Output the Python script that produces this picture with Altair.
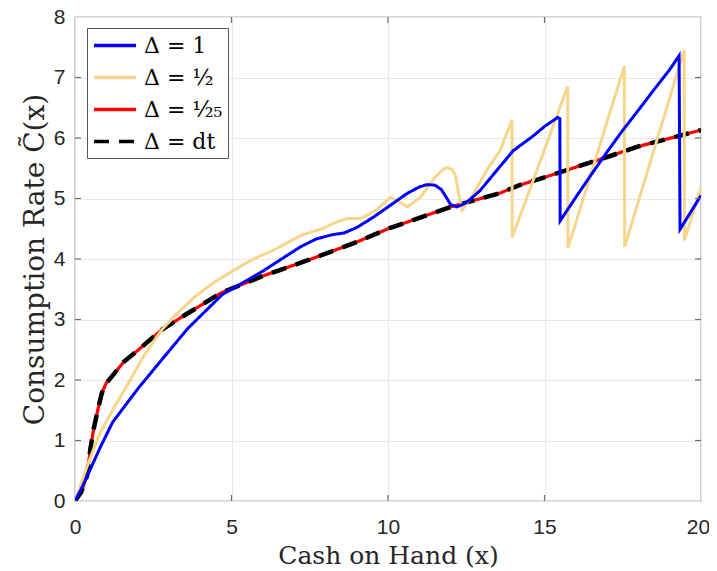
import altair as alt
import pandas as pd

# ---- data ----
labels = ["Δ = 1", "Δ = ½", "Δ = ¹⁄₂₅", "Δ = dt"]
colors = ["#0000FF", "#F6D68C", "#FF0000", "#000000"]

blue_x = [0, 0.2, 0.4, 0.8, 1.2, 2.0, 2.7, 3.6, 4.7, 5.4, 6.0, 6.6, 7.2, 7.7, 8.2, 8.6,
          9.0, 9.5, 10.0, 10.6, 11.0, 11.25, 11.5, 11.7, 11.85, 12.0, 12.2, 12.5, 12.94,
          13.5, 14.0, 14.63, 15.0, 15.42, 15.49, 15.5, 16.0, 16.5, 17.0, 17.49, 18.0,
          18.5, 19.0, 19.3, 19.33, 20.0]
blue_y = [0, 0.2, 0.42, 0.88, 1.3, 1.85, 2.29, 2.85, 3.41, 3.62, 3.8, 4.0, 4.2, 4.33,
          4.4, 4.43, 4.52, 4.68, 4.86, 5.08, 5.19, 5.23, 5.22, 5.15, 5.03, 4.9, 4.86,
          4.93, 5.13, 5.48, 5.79, 6.03, 6.19, 6.34, 6.32, 4.63, 5.02, 5.4, 5.77, 6.12,
          6.46, 6.8, 7.13, 7.36, 4.49, 5.05]

half_x = [0, 0.3, 0.75, 1.2, 1.72, 2.2, 2.77, 3.3, 3.82, 4.4, 5.09, 5.7, 6.36, 7.22, 7.9,
          8.3, 8.7, 9.13, 9.6, 10.08, 10.35, 10.62, 11.03, 11.5, 11.75, 11.89, 12.05,
          12.15, 12.27, 12.37, 12.7, 13.16, 13.58, 13.96, 13.97, 15.74, 15.75, 17.55,
          17.56, 19.46, 19.47, 20.0]
half_y = [0, 0.45, 1.07, 1.5, 1.96, 2.4, 2.83, 3.12, 3.37, 3.6, 3.82, 4.0, 4.15, 4.39, 4.5,
          4.6, 4.67, 4.67, 4.8, 5.02, 4.95, 4.86, 5.02, 5.35, 5.48, 5.51, 5.48, 5.38,
          5.05, 4.81, 5.05, 5.47, 5.79, 6.3, 4.36, 6.85, 4.18, 7.19, 4.2, 7.45, 4.31, 5.18]

fine_x = [0, 0.2, 0.38, 0.49, 0.6, 0.73, 0.86, 1.0, 1.18, 1.56, 2.03, 2.77, 3.5, 4.67,
          6.0, 7.44, 9.0, 10.0, 11.0, 12.0, 13.58, 14.2, 15.0, 16.85, 18.0, 20.0]
fine_y = [0, 0.15, 0.41, 0.86, 1.2, 1.51, 1.79, 1.95, 2.06, 2.3, 2.5, 2.83, 3.07, 3.44,
          3.72, 3.98, 4.28, 4.5, 4.68, 4.86, 5.09, 5.22, 5.35, 5.66, 5.86, 6.13]

dt_x = fine_x
dt_y = fine_y

x_ticks = [0, 5, 10, 15, 20]
y_ticks = [0, 1, 2, 3, 4, 5, 6, 7, 8]

W, H = 626, 484
TICK = 6

# ---- build table ----
frames = []
for lab, xs, ys in zip(labels, [blue_x, half_x, fine_x, dt_x], [blue_y, half_y, fine_y, dt_y]):
    frames.append(pd.DataFrame({"x": xs, "y": ys, "series": lab, "k": range(len(xs))}))
df = pd.concat(frames, ignore_index=True)
xt = pd.DataFrame({"x": [float(v) for v in x_ticks[1:-1]]})
yt = pd.DataFrame({"y": [float(v) for v in y_ticks[1:-1]]})

xscale = alt.Scale(domain=[0, 20], nice=False)
yscale = alt.Scale(domain=[0, 8], nice=False)

color = alt.Color("series:N",
                  scale=alt.Scale(domain=labels, range=colors),
                  legend=alt.Legend(title=None, orient="none", legendX=12, legendY=11,
                                    labelFont="DejaVu Serif", labelFontSize=22,
                                    labelColor="#000000", symbolType="M-1,0H3",
                                    symbolSize=441, symbolStrokeWidth=3.5,
                                    rowPadding=8, padding=5, labelOffset=27,
                                    strokeColor="#555555", fillColor="#ffffff",
                                    labelLimit=300))
dash = alt.StrokeDash("series:N",
                      scale=alt.Scale(domain=labels,
                                      range=[[1, 0], [1, 0], [1, 0], [15, 10]]),
                      legend=None)

x_axis = alt.Axis(values=x_ticks, format="d", title="Cash on Hand (x)",
                  titleFontSize=25,
                  labelOffset=alt.ExprRef("datum.value == 20 ? -3 : 0"))
y_axis = alt.Axis(values=y_ticks, format="d", title="Consumption Rate C̃(x)",
                  titleFontSize=28)

xenc = alt.X("x:Q", scale=xscale, axis=x_axis)
yenc = alt.Y("y:Q", scale=yscale, axis=y_axis)

def layer(lab, width):
    return alt.Chart(df).transform_filter(alt.datum.series == lab).mark_line(
        strokeWidth=width, clip=True
    ).encode(x=xenc, y=yenc, color=color, strokeDash=dash, order="k:Q")

tick_color = "#6e6e6e"
bottom_ticks = alt.Chart(xt).mark_rule(color=tick_color, strokeWidth=1.2).encode(
    x=xenc, y=alt.value(H), y2=alt.value(H - TICK))
top_ticks = alt.Chart(xt).mark_rule(color=tick_color, strokeWidth=1.2).encode(
    x=xenc, y=alt.value(0), y2=alt.value(TICK))
left_ticks = alt.Chart(yt).mark_rule(color=tick_color, strokeWidth=1.2).encode(
    y=yenc, x=alt.value(0), x2=alt.value(TICK))
right_ticks = alt.Chart(yt).mark_rule(color=tick_color, strokeWidth=1.2).encode(
    y=yenc, x=alt.value(W), x2=alt.value(W - TICK))

chart = alt.layer(
    layer(labels[2], 3.2),
    layer(labels[3], 4.5),
    layer(labels[1], 3),
    layer(labels[0], 3),
    bottom_ticks, top_ticks, left_ticks, right_ticks,
).properties(
    width=W, height=H,
    autosize=alt.AutoSizeParams(type="none"),
    padding={"left": 67, "top": 9, "right": 8, "bottom": 70},
).configure_view(
    stroke="#5a5a5a", strokeWidth=1.2
).configure_axis(
    grid=True, gridColor="#e8e8e8", gridWidth=1,
    domain=False, ticks=False, labelFlush=False,
    labelFont="Liberation Sans", labelFontSize=21, labelColor="#262626",
    titleFont="DejaVu Serif", titleFontWeight="normal",
    titleColor="#262626",
).configure_axisX(
    labelPadding=15, titlePadding=6
).configure_axisY(
    labelPadding=10, titlePadding=4
)

chart.save("out.html", embed_options={"renderer": "svg", "actions": False})
